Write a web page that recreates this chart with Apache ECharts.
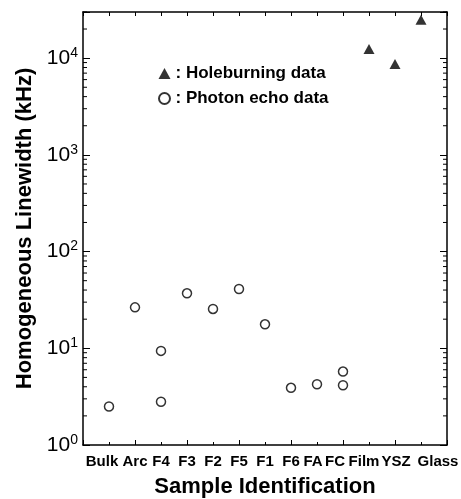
<!DOCTYPE html>
<html>
<head>
<meta charset="utf-8">
<script src="https://cdn.jsdelivr.net/npm/echarts@6/dist/echarts.min.js"></script>
<style>
  html, body { margin: 0; background: #fff; }
  #chart { width: 461px; height: 499px; }
</style>
</head>
<body>
<div id="chart"></div>
<script>
const categories = ['Bulk', 'Arc', 'F4', 'F3', 'F2', 'F5', 'F1', 'F6', 'FA', 'FC', 'Film', 'YSZ', 'Glass']

// photon echo points (kHz)
const echoSamples = ['Bulk', 'Arc', 'F4', 'F4', 'F3', 'F2', 'F5', 'F1', 'F6', 'FA', 'FC', 'FC']
const echoWidths = [2.5, 26.5, 9.4, 2.8, 37, 25.5, 41, 17.7, 3.9, 4.25, 5.75, 4.15]

// holeburning points (kHz)
const holeSamples = ['Film', 'YSZ', 'Glass']
const holeWidths = [12400, 8700, 24900]

const yMin = 1
const yMax = 30000
const yDecades = [1, 10, 100, 1000, 10000]
const minorSteps = [2, 3, 4, 5, 6, 7, 8, 9]

const font = '"Liberation Sans", Arial, sans-serif'
const xMax = categories.length + 1

// the original labels were typeset as one line, so a few sit off their tick
const labelShift = { Bulk: -7, FA: -4, FC: -8, Film: -5, YSZ: 1, Glass: 17 }

const minorTickValues = yDecades
  .flatMap((d) => minorSteps.map((s) => d * s))
  .filter((v) => v <= yMax)

const toPoint = (sample, value) => [categories.indexOf(sample) + 1, value]

const labelRich = {}
categories.forEach((c, i) => {
  const d = labelShift[c] || 0
  labelRich['c' + i] = { padding: d > 0 ? [0, 0, 0, 2 * d] : [0, -2 * d, 0, 0] }
})

const chart = echarts.init(document.getElementById('chart'), null, { renderer: 'canvas' })

const axisLine = { show: true, onZero: false, lineStyle: { color: '#000', width: 1.5 } }

chart.setOption({
  animation: false,
  backgroundColor: '#fff',
  grid: { left: 83, right: 14, top: 12, bottom: 54, containLabel: false, outerBoundsMode: 'none' },
  legend: {
    data: ['Holeburning data', 'Photon echo data'],
    orient: 'vertical',
    left: 153,
    top: 60,
    itemWidth: 12,
    itemHeight: 11,
    itemGap: 8,
    formatter: (name) => ': ' + name,
    textStyle: { fontFamily: font, fontWeight: 'bold', fontSize: 17, lineHeight: 17, color: '#000' },
    selectedMode: false,
  },
  xAxis: [
    {
      // bottom ticks: long at even, short at odd
      type: 'value', position: 'bottom', min: 0, max: xMax, interval: 2,
      axisLine,
      axisTick: { show: true, inside: true, length: 5, lineStyle: { color: '#000', width: 1 } },
      minorTick: { show: true, splitNumber: 2, length: 3, lineStyle: { color: '#000', width: 1 } },
      axisLabel: { show: false },
      splitLine: { show: false },
      minorSplitLine: { show: false },
      name: 'Sample Identification',
      nameLocation: 'middle',
      nameGap: 31,
      nameTextStyle: { fontFamily: font, fontWeight: 'bold', fontSize: 22, color: '#000' },
    },
    {
      // category labels
      type: 'value', position: 'bottom', min: 0, max: xMax, interval: 1,
      axisLine: { show: false },
      axisTick: { show: false },
      splitLine: { show: false },
      axisLabel: {
        margin: 9,
        fontFamily: font, fontWeight: 'bold', fontSize: 15, color: '#000',
        formatter: (v) => {
          const c = categories[v - 1]
          return c ? `{c${v - 1}|${c}}` : ''
        },
        rich: labelRich,
      },
    },
    {
      type: 'value', position: 'top', min: 0, max: xMax, interval: 1,
      axisLine,
      axisTick: { show: true, inside: true, length: 4, lineStyle: { color: '#000', width: 1 } },
      axisLabel: { show: false },
      splitLine: { show: false },
    },
  ],
  yAxis: [
    {
      type: 'log', logBase: 10, min: yMin, max: yMax, position: 'left',
      axisLine,
      axisTick: { show: true, inside: true, length: 7, lineStyle: { color: '#000', width: 1 } },
      splitLine: { show: false },
      axisLabel: {
        margin: 5,
        color: '#000',
        formatter: (v) => {
          const e = Math.round(Math.log10(v))
          if (yDecades.indexOf(v) < 0) return ''
          return `{b|10}{s|${e}}`
        },
        rich: {
          b: { fontFamily: font, fontSize: 21, color: '#000', lineHeight: 24 },
          s: { fontFamily: font, fontSize: 14, color: '#000', verticalAlign: 'top', lineHeight: 14 },
        },
      },
      name: 'Homogeneous Linewidth (kHz)',
      nameLocation: 'middle',
      nameGap: 46,
      nameRotate: 90,
      nameTextStyle: { fontFamily: font, fontWeight: 'bold', fontSize: 22, color: '#000' },
    },
    {
      type: 'log', logBase: 10, min: yMin, max: yMax, position: 'right',
      axisLine,
      axisTick: { show: true, inside: true, length: 7, lineStyle: { color: '#000', width: 1 } },
      splitLine: { show: false },
      axisLabel: { show: false },
    },
  ],
  series: [
    {
      name: 'Holeburning data',
      type: 'scatter',
      xAxisIndex: 0,
      yAxisIndex: 0,
      symbol: 'triangle',
      symbolSize: [11, 10],
      itemStyle: { color: '#000' },
      data: holeSamples.map((s, i) => toPoint(s, holeWidths[i])),
      z: 5,
    },
    {
      name: 'Photon echo data',
      type: 'scatter',
      xAxisIndex: 0,
      yAxisIndex: 0,
      symbol: 'circle',
      symbolSize: 9,
      itemStyle: { color: '#fff', borderColor: '#000', borderWidth: 1.5 },
      data: echoSamples.map((s, i) => toPoint(s, echoWidths[i])),
      z: 5,
    },
    {
      // log minor ticks on left and right frame
      type: 'custom',
      xAxisIndex: 0,
      yAxisIndex: 0,
      silent: true,
      clip: false,
      data: minorTickValues.map((v) => [0, v]),
      renderItem: (params, api) => {
        const v = api.value(1)
        const l = api.coord([0, v])
        const r = api.coord([xMax, v])
        const style = { stroke: '#000', lineWidth: 1 }
        return {
          type: 'group',
          children: [
            { type: 'line', shape: { x1: l[0], y1: l[1], x2: l[0] + 4, y2: l[1] }, style },
            { type: 'line', shape: { x1: r[0] - 4, y1: r[1], x2: r[0], y2: r[1] }, style },
          ],
        }
      },
    },
  ],
})
</script>
</body>
</html>
